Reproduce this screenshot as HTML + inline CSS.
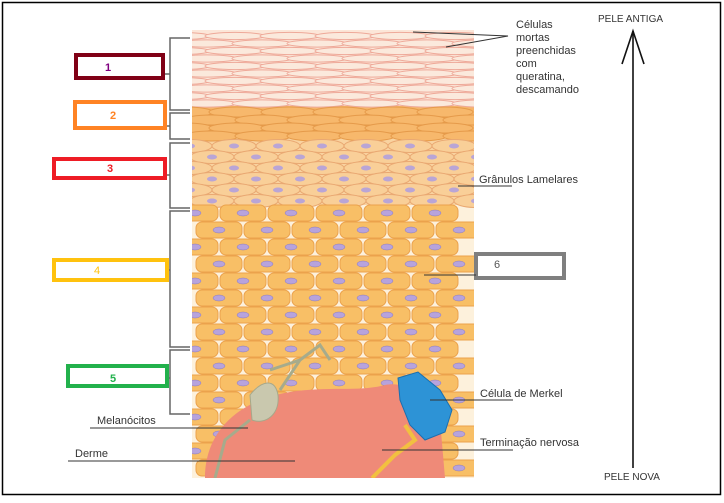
<!DOCTYPE html>
<html><head><meta charset="utf-8">
<style>
html,body{margin:0;padding:0;background:#fff;}
body{width:724px;height:498px;overflow:hidden;font-family:"Liberation Sans",sans-serif;}
svg text{font-family:"Liberation Sans",sans-serif;}
</style></head>
<body>
<svg id="s" width="724" height="498" viewBox="0 0 724 498">
<defs>
<clipPath id="clip"><rect x="192" y="26" width="282" height="452"/></clipPath>
</defs>
<rect x="2.5" y="2.5" width="718" height="492" fill="#fff" stroke="#000" stroke-width="1.5"/>
<g clip-path="url(#clip)">
  <rect x="192" y="30" width="282" height="80" fill="#fce6d8"/>
  <rect x="192" y="106" width="282" height="36" fill="#f6b56a"/>
  <rect x="192" y="138" width="282" height="70" fill="#f9d3a0"/>
  <rect x="192" y="205" width="282" height="273" fill="#fdf1dc"/>
  <g id="cells"></g>
  <path d="M205,478 C205,430 240,400 290,392 C330,386 360,392 385,385 C410,380 425,400 440,420 L445,478 Z" fill="#ef8a78"/>
  <path d="M250,395 C262,380 275,378 278,395 C280,415 265,425 252,420 Z" fill="#c9c8ae" stroke="#a6a88a"/>
  <path d="M300,360 L320,345 L330,360 M280,390 L300,360 L270,370 M250,420 L225,440 L215,478" stroke="#a6ab8c" stroke-width="3" fill="none"/>
  <path d="M398,378 L418,372 L440,390 L452,410 L445,432 L425,440 L410,425 L400,400 Z" fill="#2d93d6" stroke="#1a6fb0"/>
  <path d="M405,425 L415,440 L395,455 L380,470 L372,478" stroke="#f2c040" stroke-width="4" fill="none"/>
</g>
<g stroke="#666" stroke-width="1.5" fill="none">
  <path d="M190,38 H170 V110 H190 M165,74 H170"/>
  <path d="M190,113 H170 V139 H190 M165,126 H170"/>
  <path d="M190,143 H170 V208 H190 M165,175 H170"/>
  <path d="M190,211 H170 V347 H190 M165,270 H170"/>
  <path d="M190,350 H170 V414 H190 M165,378 H170"/>
</g>
<g stroke-width="4" fill="#fff">
  <rect x="76" y="55" width="87" height="23" stroke="#800016"/>
  <rect x="75" y="102" width="90" height="26" stroke="#ff8324"/>
  <rect x="54" y="159" width="111" height="19" stroke="#ee1c25"/>
  <rect x="54" y="260" width="113" height="20" stroke="#ffc20e"/>
  <rect x="68" y="366" width="99" height="20" stroke="#22b14c"/>
  <rect x="476" y="254" width="88" height="24" stroke="#7f7f7f"/>
</g>
<g font-size="11" text-anchor="middle">
  <text x="108" y="71" fill="#800080" font-weight="bold">1</text>
  <text x="113" y="119" fill="#ff8324" font-weight="bold">2</text>
  <text x="110" y="172" fill="#ee1c25" font-weight="bold">3</text>
  <text x="97" y="274" fill="#ffc20e">4</text>
  <text x="113" y="382" fill="#22b14c" font-weight="bold">5</text>
  <text x="497" y="268" fill="#555" font-family="Liberation Serif">6</text>
</g>
<g stroke="#333" stroke-width="1" fill="none">
  <path d="M413,32 L508,36 L446,47"/>
  <path d="M458,186 H512"/>
  <path d="M424,275 H476"/>
  <path d="M430,400 H513"/>
  <path d="M382,450 H513"/>
  <path d="M90,428 H248"/>
  <path d="M68,461 H295"/>
</g>
<g font-size="11" fill="#333">
  <text x="516" y="28"><tspan x="516">Células</tspan><tspan x="516" dy="13">mortas</tspan><tspan x="516" dy="13">preenchidas</tspan><tspan x="516" dy="13">com</tspan><tspan x="516" dy="13">queratina,</tspan><tspan x="516" dy="13">descamando</tspan></text>
  <text x="479" y="183">Grânulos Lamelares</text>
  <text x="480" y="397">Célula de Merkel</text>
  <text x="480" y="446">Terminação nervosa</text>
  <text x="97" y="424">Melanócitos</text>
  <text x="75" y="457">Derme</text>
  <text x="598" y="22" font-size="10">PELE ANTIGA</text>
  <text x="604" y="480" font-size="10">PELE NOVA</text>
</g>
<g stroke="#111" stroke-width="1.6" fill="none">
  <path d="M633,468 V31"/>
  <path d="M622,64 L633,31 L644,64"/>
</g>
</svg>
<script>
var g=document.getElementById('cells');
var NS='http://www.w3.org/2000/svg';
function el(t,a){var e=document.createElementNS(NS,t);for(var k in a)e.setAttribute(k,a[k]);g.appendChild(e);return e;}
for(var r=0;r<10;r++){for(var c=0;c<6;c++){var x=180+c*55+(r%2)*27,y=36+r*7.5;
var e=el('ellipse',{cx:x,cy:y,rx:30,ry:3.6,fill:'#fbe9dc',stroke:'#eea999','stroke-width':1});

}}
for(var r=0;r<4;r++){for(var c=0;c<6;c++){var e=el('ellipse',{cx:185+c*52+(r%2)*26,cy:112+r*8,rx:28,ry:5,fill:'#f7b86c',stroke:'#e59a4a'});

}}
for(var r=0;r<6;r++){for(var c=0;c<7;c++){var x=190+c*44+(r%2)*22,y=146+r*11;
var e=el('ellipse',{cx:x,cy:y,rx:22,ry:6.5,fill:'#f9cf98',stroke:'#e9a872'});


var n=el('ellipse',{cx:x,cy:y,rx:5,ry:2.5,fill:'#b9a5d6'});

}}
for(var r=0;r<16;r++){for(var c=0;c<6;c++){var x=195+c*48+(r%2)*24,y=213+r*17;
var e=el('rect',{x:x-23,y:y-8,width:46,height:16,rx:6,fill:'#f8bf66',stroke:'#eba24c'});


var n=el('ellipse',{cx:x,cy:y,rx:6,ry:3,fill:'#b7a3dc',stroke:'#8e7bb8','stroke-width':0.5});

}}
</script>
</body></html>
